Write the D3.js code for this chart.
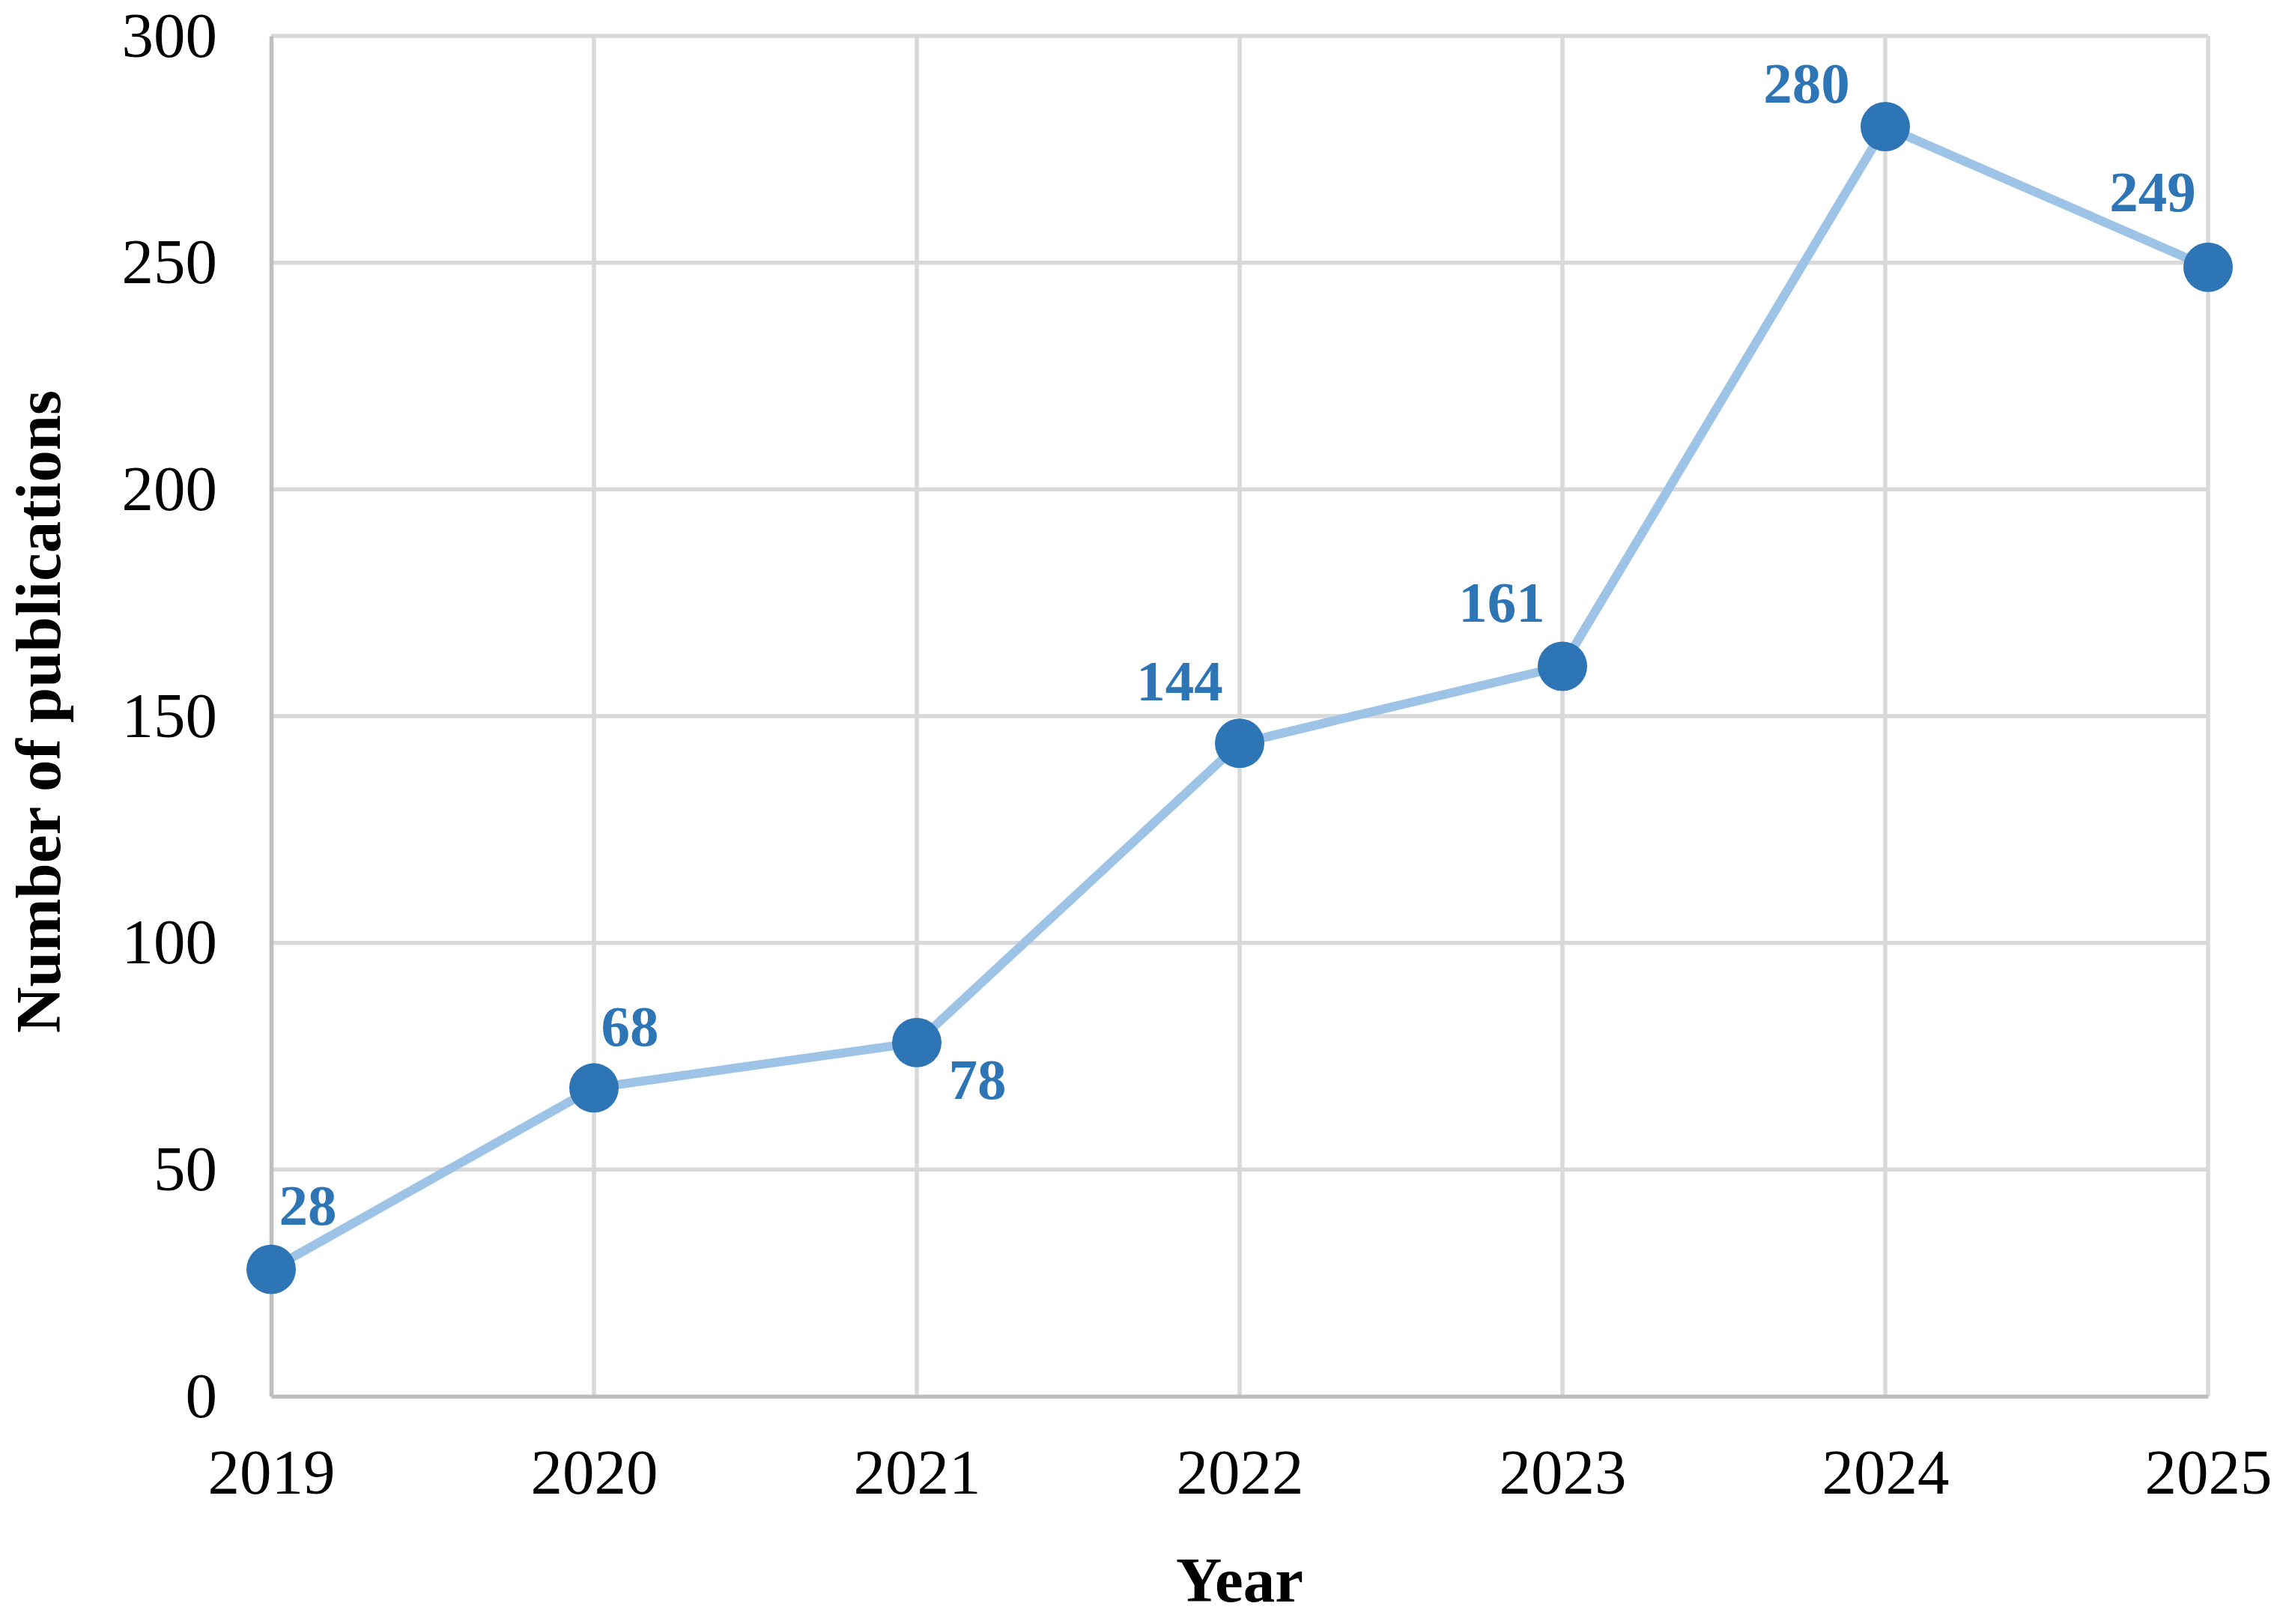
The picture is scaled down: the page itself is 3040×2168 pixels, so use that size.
<!DOCTYPE html>
<html>
<head>
<meta charset="utf-8">
<script src="https://cdn.jsdelivr.net/npm/d3@7"></script>
<style>
  html, body { margin: 0; padding: 0; background: #ffffff; }
  svg { display: block; }
</style>
</head>
<body>
<script>
// ---- Data ----
const years = ["2019", "2020", "2021", "2022", "2023", "2024", "2025"];
const publications = [28, 68, 78, 144, 161, 280, 249];
const yTickValues = [0, 50, 100, 150, 200, 250, 300];
const xAxisTitle = "Year";
const yAxisTitle = "Number of publications";

// ---- Label placement (layout, px offsets from marker centre) ----
const labelDx = [49, 48, 81, -80, -81, -105, -74];
const labelDy = [-60, -56, 75, -57, -59, -32, -75];

// ---- Layout ----
const W = 3040, H = 2168;
const plot = { left: 362, right: 2948, top: 48, bottom: 1864 };
const FONT = "'Liberation Serif', 'Times New Roman', Times, serif";
const gridColor = "#d9d9d9";
const axisColor = "#bfbfbf";
const lineColor = "#9dc3e6";
const markerColor = "#2e75b6";

const svg = d3.select("body").append("svg")
  .attr("width", W).attr("height", H)
  .attr("viewBox", `0 0 ${W} ${H}`);

svg.append("rect").attr("width", W).attr("height", H).attr("fill", "#ffffff");

const x = d3.scalePoint().domain(years).range([plot.left, plot.right]);
const y = d3.scaleLinear().domain([0, 300]).range([plot.bottom, plot.top]);

// Gridlines
const grid = svg.append("g");
grid.selectAll("line.h").data(yTickValues.filter(v => v > 0)).join("line")
  .attr("class", "h")
  .attr("x1", plot.left).attr("x2", plot.right)
  .attr("y1", d => y(d)).attr("y2", d => y(d))
  .attr("stroke", gridColor).attr("stroke-width", 5.5);
grid.selectAll("line.v").data(years.slice(1)).join("line")
  .attr("class", "v")
  .attr("x1", d => x(d)).attr("x2", d => x(d))
  .attr("y1", plot.top).attr("y2", plot.bottom)
  .attr("stroke", gridColor).attr("stroke-width", 5.5);

// Axes
const xAxis = svg.append("g")
  .attr("transform", `translate(0,${plot.bottom})`)
  .call(d3.axisBottom(x).tickSize(0).tickSizeOuter(0).tickPadding(70));
const yAxis = svg.append("g")
  .attr("transform", `translate(${plot.left},0)`)
  .call(d3.axisLeft(y).tickValues(yTickValues).tickSize(0).tickSizeOuter(0).tickPadding(72).tickFormat(d3.format("d")));

[xAxis, yAxis].forEach(g => {
  g.select(".domain").attr("stroke", axisColor).attr("stroke-width", 5.5);
  g.selectAll("text")
    .attr("fill", "#000000")
    .style("font-family", FONT)
    .style("font-size", "85px");
});

// Line
const line = d3.line().x((d, i) => x(years[i])).y(d => y(d));
svg.append("path")
  .datum(publications)
  .attr("d", line)
  .attr("fill", "none")
  .attr("stroke", lineColor)
  .attr("stroke-width", 12)
  .attr("stroke-linejoin", "round");

// Markers
svg.append("g").selectAll("circle").data(publications).join("circle")
  .attr("cx", (d, i) => x(years[i]))
  .attr("cy", d => y(d))
  .attr("r", 33)
  .attr("fill", markerColor);

// Data labels
svg.append("g").selectAll("text").data(publications).join("text")
  .attr("x", (d, i) => x(years[i]) + labelDx[i])
  .attr("y", (d, i) => y(d) + labelDy[i])
  .attr("text-anchor", "middle")
  .attr("fill", markerColor)
  .style("font-family", FONT)
  .style("font-weight", "bold")
  .style("font-size", "77px")
  .text(d => d);

// Axis titles
svg.append("text")
  .attr("x", (plot.left + plot.right) / 2)
  .attr("y", 2138)
  .attr("text-anchor", "middle")
  .style("font-family", FONT)
  .style("font-weight", "bold")
  .style("font-size", "85px")
  .attr("fill", "#000000")
  .text(xAxisTitle);

svg.append("text")
  .attr("transform", `translate(80,${(plot.top + plot.bottom) / 2 - 6}) rotate(-90)`)
  .attr("text-anchor", "middle")
  .style("font-family", FONT)
  .style("font-weight", "bold")
  .style("font-size", "85px")
  .attr("fill", "#000000")
  .text(yAxisTitle);
</script>
</body>
</html>
